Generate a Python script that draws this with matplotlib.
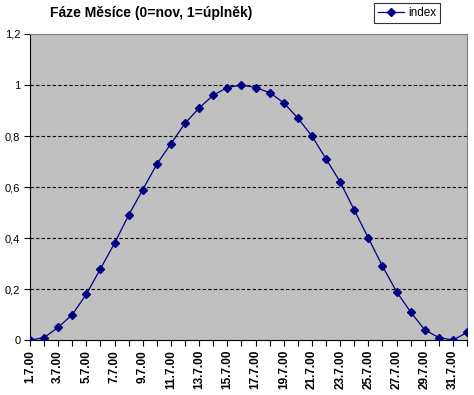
import matplotlib
matplotlib.use('Agg')
import matplotlib.pyplot as plt
from matplotlib.ticker import FuncFormatter

plt.rcParams['font.family'] = ['Liberation Sans', 'DejaVu Sans']

DAYS = ['1.7.00', '2.7.00', '3.7.00', '4.7.00', '5.7.00', '6.7.00', '7.7.00', '8.7.00',
        '9.7.00', '10.7.00', '11.7.00', '12.7.00', '13.7.00', '14.7.00', '15.7.00', '16.7.00',
        '17.7.00', '18.7.00', '19.7.00', '20.7.00', '21.7.00', '22.7.00', '23.7.00', '24.7.00',
        '25.7.00', '26.7.00', '27.7.00', '28.7.00', '29.7.00', '30.7.00', '31.7.00', '1.8.00']
INDEX = [0.00, 0.01, 0.05, 0.10, 0.18, 0.28, 0.38, 0.49,
         0.59, 0.69, 0.77, 0.85, 0.91, 0.96, 0.99, 1.00,
         0.99, 0.97, 0.93, 0.87, 0.80, 0.71, 0.62, 0.51,
         0.40, 0.29, 0.19, 0.11, 0.04, 0.01, 0.00, 0.03]
Y_TICKS = [0, 0.2, 0.4, 0.6, 0.8, 1.0, 1.2]

fig = plt.figure(figsize=(4.74, 3.95), dpi=100)
ax = fig.add_axes([0.0633, 0.139, 0.922, 0.775])
ax.set_facecolor('#c0c0c0')

x = list(range(len(DAYS)))
ax.plot(x, INDEX, color='#000080', lw=0.9, marker='D', ms=3.6, label='index', zorder=3)

ax.set_xlim(0, len(DAYS) - 1)
ax.set_ylim(0, 1.2)
ax.set_yticks(Y_TICKS)
ax.yaxis.set_major_formatter(FuncFormatter(lambda v, p: ('%g' % round(v, 1)).replace('.', ',')))
for v in Y_TICKS[1:-1]:
    ax.axhline(v, color='black', lw=0.8, ls=(0, (3, 2)), zorder=1)

ax.set_xticks(x)
ax.set_xticklabels([d if i % 2 == 0 else '' for i, d in enumerate(DAYS)],
                   rotation=90, fontsize=8.5, fontweight='bold')
ax.tick_params(axis='y', labelsize=8, length=4, width=0.8, direction='out', pad=3)
ax.tick_params(axis='x', length=4, width=0.8, direction='out', pad=3)

for s in ['top', 'right']:
    ax.spines[s].set_color('#808080')
    ax.spines[s].set_linewidth(0.8)
for s in ['left', 'bottom']:
    ax.spines[s].set_color('black')
    ax.spines[s].set_linewidth(0.8)

fig.text(0.318, 0.967, 'Fáze Měsíce (0=nov, 1=úplněk)', ha='center', va='center',
         fontsize=10, fontweight='bold')

leg = fig.legend(loc='center', bbox_to_anchor=(0.859, 0.968), fontsize=8.5, frameon=True,
                 fancybox=False, edgecolor='black', borderpad=0.35, handlelength=2.2,
                 handletextpad=0.3, borderaxespad=0)
leg.get_frame().set_linewidth(0.8)

fig.savefig('out.png', dpi=100)
